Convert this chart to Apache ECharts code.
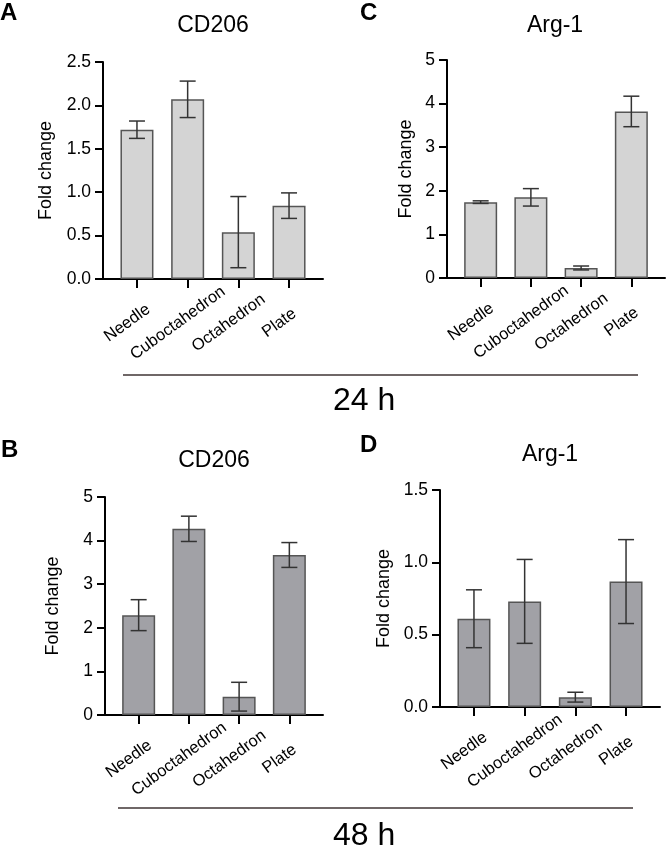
<!DOCTYPE html>
<html>
<head>
<meta charset="utf-8">
<script src="https://cdn.jsdelivr.net/npm/echarts@6/dist/echarts.min.js"></script>
<style>
html,body{margin:0;padding:0;background:#fff;}
#c{width:666px;height:846px;}
</style>
</head>
<body>
<div id="c"></div>
<script>
const categories = ['Needle', 'Cuboctahedron', 'Octahedron', 'Plate'];
// Panel A: CD206, 24 h
const cd206_24_mean = [1.72, 2.07, 0.54, 0.845];
const cd206_24_err  = [0.10, 0.21, 0.41, 0.147];
// Panel C: Arg-1, 24 h
const arg1_24_mean = [1.74, 1.85, 0.23, 3.82];
const arg1_24_err  = [0.03, 0.20, 0.045, 0.35];
// Panel B: CD206, 48 h
const cd206_48_mean = [2.29, 4.27, 0.42, 3.67];
const cd206_48_err  = [0.355, 0.29, 0.33, 0.285];
// Panel D: Arg-1, 48 h
const arg1_48_mean = [0.61, 0.73, 0.068, 0.867];
const arg1_48_err  = [0.20, 0.29, 0.034, 0.29];

const FONT = "'Liberation Sans', Arial, sans-serif";
const LIGHT = '#d4d4d4';
const DARK = '#a1a1a6';

const panels = [
  {grid:{left:103, top:62, width:220, height:217}, ymax:2.5, step:0.5, dec:1, mean:cd206_24_mean, err:cd206_24_err, color:LIGHT, gap:48},
  {grid:{left:447, top:60, width:218, height:218}, ymax:5, step:1, dec:0, mean:arg1_24_mean, err:arg1_24_err, color:LIGHT, gap:32},
  {grid:{left:105, top:497, width:218, height:218}, ymax:5, step:1, dec:0, mean:cd206_48_mean, err:cd206_48_err, color:DARK, gap:43},
  {grid:{left:440, top:490, width:220, height:217}, ymax:1.5, step:0.5, dec:1, mean:arg1_48_mean, err:arg1_48_err, color:DARK, gap:47}
];

const grids = [], xAxes = [], yAxes = [], series = [];
panels.forEach((p, i) => {
  grids.push(Object.assign({containLabel:false}, p.grid));
  xAxes.push({
    type:'value', gridIndex:i, min:-0.67, max:3.67,
    splitLine:{show:false},
    axisLine:{show:true, lineStyle:{color:'#000', width:2}},
    axisTick:{show:true, customValues:[0,1,2,3], length:9, lineStyle:{color:'#000', width:2}},
    axisLabel:{
      customValues:[0,1,2,3],
      formatter: v => categories[Math.round(v)],
      rotate:36, align:'center', verticalAlign:'middle', padding:[0,24,0,0],
      margin:37, fontSize:16.5, color:'#000', fontFamily:FONT
    }
  });
  yAxes.push({
    type:'value', gridIndex:i, min:0, max:p.ymax, interval:p.step,
    name:'Fold change', nameLocation:'middle', nameGap:p.gap,
    nameTextStyle:{fontSize:18, color:'#000', fontFamily:FONT},
    splitLine:{show:false},
    axisLine:{show:true, onZero:false, lineStyle:{color:'#000', width:2}},
    axisTick:{show:true, length:8, lineStyle:{color:'#000', width:2}},
    axisLabel:{margin:12, fontSize:17.5, color:'#000', fontFamily:FONT,
      formatter: v => v.toFixed(p.dec)}
  });
  series.push({
    type:'bar', xAxisIndex:i, yAxisIndex:i, barWidth:33,
    data: p.mean.map((m, k) => [k, m]),
    itemStyle:{color:p.color, borderColor:'#555', borderWidth:1.5},
    silent:true, z:2
  });
  series.push({
    type:'custom', xAxisIndex:i, yAxisIndex:i, z:5, silent:true,
    data: p.mean.map((m, k) => [k, m - p.err[k], m + p.err[k]]),
    renderItem: (params, api) => {
      const x = api.value(0), lo = api.value(1), hi = api.value(2);
      const a = api.coord([x, hi]), b = api.coord([x, lo]);
      const h = 8;
      const st = {stroke:'#333', lineWidth:1.5};
      return {type:'group', children:[
        {type:'line', shape:{x1:a[0], y1:a[1], x2:b[0], y2:b[1]}, style:st},
        {type:'line', shape:{x1:a[0]-h, y1:a[1], x2:a[0]+h, y2:a[1]}, style:st},
        {type:'line', shape:{x1:b[0]-h, y1:b[1], x2:b[0]+h, y2:b[1]}, style:st}
      ]};
    }
  });
});

function txt(text, x, y, size, weight, align) {
  return {type:'text', x:x, y:y, style:{text:text, fontSize:size, fontWeight:weight||'normal',
    fill:'#000', fontFamily:FONT, align:align||'center', verticalAlign:'middle'}};
}

const graphic = [
  txt('A', 0, 13, 24, 'bold', 'left'),
  txt('C', 360, 13, 24, 'bold', 'left'),
  txt('B', 1, 450, 24, 'bold', 'left'),
  txt('D', 360, 445, 24, 'bold', 'left'),
  txt('CD206', 213, 26, 23),
  txt('Arg-1', 555, 26, 23),
  txt('CD206', 214, 461, 23),
  txt('Arg-1', 550, 455, 23),
  {type:'line', shape:{x1:123, y1:375, x2:638, y2:375}, style:{stroke:'#3f3535', lineWidth:1.5}},
  txt('24 h', 333, 401, 32, 'normal', 'left'),
  {type:'line', shape:{x1:118, y1:808, x2:633, y2:808}, style:{stroke:'#3f3535', lineWidth:1.5}},
  txt('48 h', 333, 836, 32, 'normal', 'left')
];

const chart = echarts.init(document.getElementById('c'), null, {renderer:'canvas'});
chart.setOption({
  backgroundColor:'#fff',
  animation:false,
  textStyle:{fontFamily:FONT},
  grid:grids, xAxis:xAxes, yAxis:yAxes, series:series, graphic:graphic
});
</script>
</body>
</html>
